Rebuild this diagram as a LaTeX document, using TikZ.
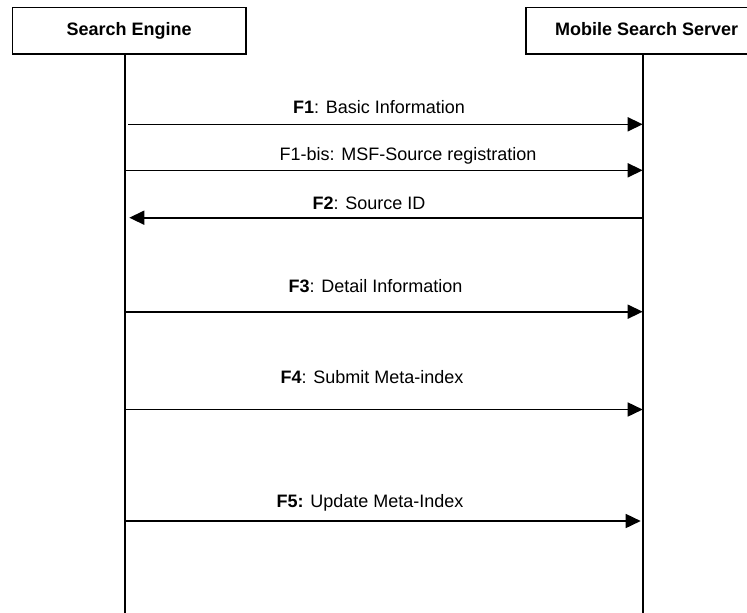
\documentclass[tikz,border=0pt]{standalone}
\usepackage{fontspec}
\setmainfont{Liberation Sans}
\usetikzlibrary{arrows.meta}

\begin{document}
\begin{tikzpicture}[x=1pt,y=-1pt,
    actor/.style={draw,line width=1.6pt,minimum height=46.7pt,inner sep=0pt,
                  text height=13pt,text depth=4pt,
                  font=\fontsize{18}{22}\selectfont\bfseries},
    life/.style={line width=1.6pt},
    msg/.style={line width=1.6pt,-{Triangle[length=15pt,width=14pt]}},
    msgtext/.style={anchor=base,inner sep=0pt,font=\fontsize{18}{22}\selectfont}]
  \clip (0,0) rectangle (747,613);
  % the two parties
  \node[actor,minimum width=233.7pt] (se)  at (129.15,30.65) {Search Engine};
  \node[actor,minimum width=242pt]   (mss) at (646.70,30.65) {Mobile Search Server};
  % lifelines
  \coordinate (seTop)  at (125.0,54);  \coordinate (seEnd)  at (125.0,613);
  \coordinate (mssTop) at (642.7,54);  \coordinate (mssEnd) at (642.7,613);
  \draw[life] (seTop)  -- (seEnd);
  \draw[life] (mssTop) -- (mssEnd);
  % end points of the messages
  \coordinate (f1a)  at (128.0,124.3);  \coordinate (f1b)  at (642.7,124.3);
  \coordinate (f1ba) at (125.0,170.3);  \coordinate (f1bb) at (642.7,170.3);
  \coordinate (f2a)  at (642.7,217.7);  \coordinate (f2b)  at (129.3,217.7);
  \coordinate (f3a)  at (125.0,311.7);  \coordinate (f3b)  at (642.7,311.7);
  \coordinate (f4a)  at (125.0,409.5);  \coordinate (f4b)  at (642.7,409.5);
  \coordinate (f5a)  at (125.0,521.0);  \coordinate (f5b)  at (640.7,521.0);
  \draw[msg] (f1a)  -- (f1b);
  \draw[msg] (f1ba) -- (f1bb);
  \draw[msg] (f2a)  -- (f2b);
  \draw[msg] (f3a)  -- (f3b);
  \draw[msg] (f4a)  -- (f4b);
  \draw[msg] (f5a)  -- (f5b);
  % labels
  \node[msgtext] (f1txt)  at (379.0,113.0) {\textbf{F1}: Basic Information};
  \node[msgtext] (f1btxt) at (408.0,160.4) {F1-bis: MSF-Source registration};
  \node[msgtext] (f2txt)  at (369.0,209.3) {\textbf{F2}: Source ID};
  \node[msgtext] (f3txt)  at (375.5,292.9) {\textbf{F3}: Detail Information};
  \node[msgtext] (f4txt)  at (372.0,383.5) {\textbf{F4}: Submit Meta-index};
  \node[msgtext] (f5txt)  at (370.0,507.0) {\textbf{F5:} Update Meta-Index};
\end{tikzpicture}
\end{document}
